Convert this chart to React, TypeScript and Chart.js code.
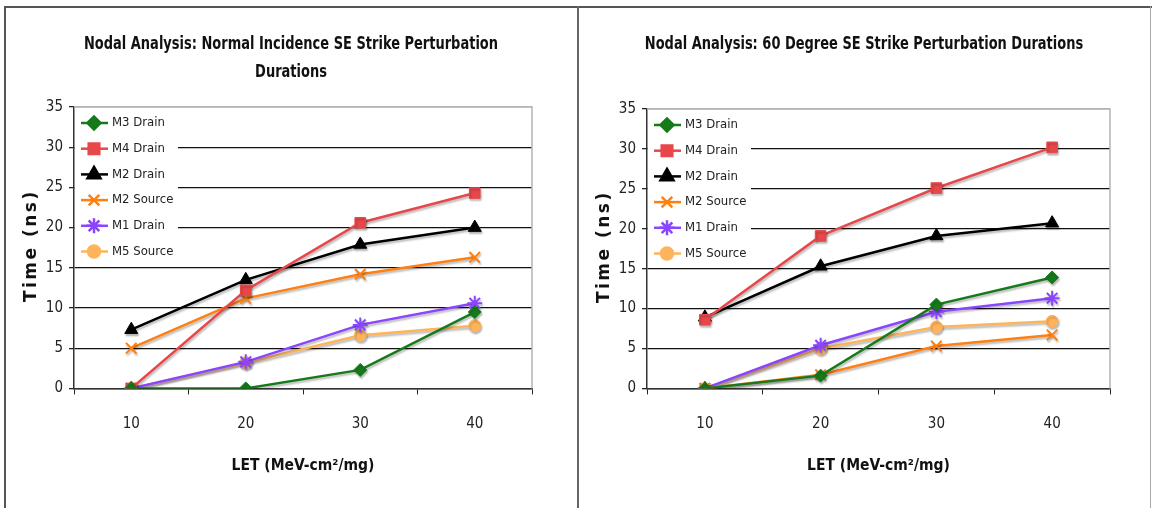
import { useEffect, useRef } from "react";
import { Chart, registerables } from "chart.js";
import { drawPoint } from "chart.js/helpers";

Chart.register(...registerables);

// ---------- data ----------
const categories = ["10", "20", "30", "40"];
const seriesNames = ["M3 Drain", "M4 Drain", "M2 Drain", "M2 Source", "M1 Drain", "M5 Source"];
const seriesColors = ["#167a1a", "#e8474a", "#000000", "#ff7f10", "#8a45ff", "#ffb45c"];
const seriesPoints = ["rectRot", "rect", "triangle", "crossRot", "star", "circle"];
const seriesRadius = [6.5, 7.5, 7.5, 7.5, 7.5, 6];

// Normal incidence
const normalM3Drain = [0, 0, 2.3, 9.5];
const normalM4Drain = [0, 12.2, 20.6, 24.3];
const normalM2Drain = [7.3, 13.5, 17.9, 20.0];
const normalM2Source = [5.0, 11.2, 14.2, 16.3];
const normalM1Drain = [0, 3.3, 7.9, 10.6];
const normalM5Source = [0, 3.2, 6.6, 7.8];

// 60 degree
const deg60M3Drain = [0, 1.6, 10.5, 13.9];
const deg60M4Drain = [8.6, 19.1, 25.1, 30.2];
const deg60M2Drain = [8.9, 15.3, 19.1, 20.7];
const deg60M2Source = [0, 1.7, 5.3, 6.7];
const deg60M1Drain = [0, 5.4, 9.6, 11.3];
const deg60M5Source = [0, 5.0, 7.7, 8.4];

const yTickMin = 0;
const yTickMax = 35;
const yTickStep = 5;

const titleNormal = ["Nodal Analysis: Normal Incidence SE Strike Perturbation", "Durations"];
const title60 = ["Nodal Analysis: 60 Degree SE Strike Perturbation Durations"];
const xTitle = "LET (MeV-cm\u00B2/mg)";
const yTitle = "Time (ns)";

const FONT = "'DejaVu Sans Condensed', 'DejaVu Sans', sans-serif";

// ---------- plugins ----------
const shadowPlugin = {
  id: "lineShadow",
  beforeDatasetsDraw(chart: any) {
    const ctx = chart.ctx;
    ctx.save();
    ctx.shadowColor = "rgba(0,0,0,0.28)";
    ctx.shadowOffsetX = 1;
    ctx.shadowOffsetY = 2;
    ctx.shadowBlur = 2;
  },
  afterDatasetsDraw(chart: any) {
    chart.ctx.restore();
  },
};

const framePlugin = {
  id: "plotFrame",
  afterDatasetsDraw(chart: any) {
    const { ctx, chartArea } = chart;
    ctx.save();
    ctx.strokeStyle = "#b4b4b4";
    ctx.lineWidth = 1.5;
    ctx.beginPath();
    ctx.moveTo(chartArea.left, chartArea.top);
    ctx.lineTo(chartArea.right, chartArea.top);
    ctx.lineTo(chartArea.right, chartArea.bottom);
    ctx.stroke();
    ctx.restore();
  },
};

const textPlugin = {
  id: "panelTexts",
  afterDraw(chart: any, _args: any, opts: any) {
    const { ctx, chartArea } = chart;
    ctx.save();
    ctx.fillStyle = "#111";
    ctx.textAlign = "center";
    ctx.textBaseline = "middle";
    ctx.font = `bold 17px ${FONT}`;
    (opts.lines as string[]).forEach((line, i) => {
      ctx.save();
      ctx.translate(opts.centerX, 36.5 + i * 28);
      ctx.scale(0.85, 1);
      ctx.fillText(line, 0, 0);
      ctx.restore();
    });
    // rotated y-axis title
    ctx.translate(26, (chartArea.top + chartArea.bottom) / 2 - 2);
    ctx.rotate(-Math.PI / 2);
    ctx.font = `bold 17px 'DejaVu Sans', sans-serif`;
    (ctx as any).letterSpacing = "2.5px";
    ctx.fillText(yTitle, 0, 0);
    ctx.restore();
  },
};

const insideLegendPlugin = {
  id: "insideLegend",
  afterDraw(chart: any) {
    const { ctx, chartArea } = chart;
    const left = chartArea.left;
    const top = chartArea.top;
    ctx.save();
    ctx.fillStyle = "#ffffff";
    ctx.fillRect(left + 1, top + 1, 103, 155);
    chart.data.datasets.forEach((ds: any, i: number) => {
      const y = top + 16 + i * 25.7;
      ctx.strokeStyle = ds.borderColor;
      ctx.lineWidth = 2.5;
      ctx.beginPath();
      ctx.moveTo(left + 7, y);
      ctx.lineTo(left + 34, y);
      ctx.stroke();
      ctx.fillStyle = ds.backgroundColor;
      ctx.strokeStyle = ds.borderColor;
      drawPoint(
        ctx,
        { pointStyle: ds.pointStyle, radius: ds.pointRadius, rotation: 0, borderWidth: 1.5 },
        left + 20,
        y
      );
      ctx.fillStyle = "#222";
      ctx.font = `13px ${FONT}`;
      ctx.textBaseline = "middle";
      ctx.textAlign = "left";
      ctx.fillText(ds.label, left + 38, y);
    });
    ctx.restore();
  },
};

function makeDatasets(values: number[][]) {
  return values.map((v, i) => ({
    label: seriesNames[i],
    data: v,
    borderColor: seriesColors[i],
    backgroundColor: seriesColors[i],
    pointStyle: seriesPoints[i],
    pointRadius: seriesRadius[i],
    pointBorderWidth: seriesPoints[i] === "crossRot" || seriesPoints[i] === "star" ? 2 : 1,
    borderWidth: 2.5,
    tension: 0,
  }));
}

function makeConfig(values: number[][], title: string[], topPad: number, rightPad: number): any {
  return {
    type: "line",
    data: { labels: categories, datasets: makeDatasets(values) },
    plugins: [shadowPlugin, framePlugin, insideLegendPlugin, textPlugin],
    options: {
      animation: false,
      responsive: false,
      devicePixelRatio: 1,
      layout: { padding: { left: 0, right: rightPad, top: topPad, bottom: 33 } },
      plugins: {
        legend: { display: false },
        tooltip: { enabled: false },
        title: { display: false },
        panelTexts: { lines: title, centerX: 285 },
      },
      scales: {
        x: {
          type: "category",
          offset: true,
          grid: {
            offset: true,
            drawOnChartArea: false,
            drawTicks: true,
            tickLength: 6,
            color: "#222",
            lineWidth: 1,
          },
          border: { display: true, color: "#333", width: 1.5 },
          ticks: { color: "#222", font: { family: FONT, size: 15 }, padding: 21 },
          title: {
            display: true,
            text: xTitle,
            color: "#111",
            font: { family: FONT, size: 15.5, weight: "bold" },
            padding: { top: 2, bottom: 0 },
          },
        },
        y: {
          min: yTickMin,
          max: yTickMax,
          afterFit(scale: any) {
            scale.width = 68;
          },
          ticks: {
            stepSize: yTickStep,
            color: "#222",
            font: { family: FONT, size: 15 },
            padding: 6,
          },
          grid: {
            color: (c: any) => (c.tick && c.tick.value === yTickMax ? "#b4b4b4" : "#111"),
            tickColor: "#222",
            lineWidth: 1.3,
            tickLength: 5,
          },
          border: { display: true, color: "#333", width: 1.5 },
          title: { display: false },
        },
      },
    },
  };
}

function ChartPanel({ config, left }: { config: any; left: number }) {
  const ref = useRef<HTMLCanvasElement | null>(null);
  useEffect(() => {
    if (!ref.current) return;
    const chart = new Chart(ref.current, config);
    return () => chart.destroy();
  }, [config]);
  return (
    <canvas
      ref={ref}
      width={570}
      height={500}
      style={{ position: "absolute", left, top: 8, width: 570, height: 500 }}
    />
  );
}

const normalConfig = makeConfig(
  [normalM3Drain, normalM4Drain, normalM2Drain, normalM2Source, normalM1Drain, normalM5Source],
  titleNormal,
  99,
  44
);
const deg60Config = makeConfig(
  [deg60M3Drain, deg60M4Drain, deg60M2Drain, deg60M2Source, deg60M1Drain, deg60M5Source],
  title60,
  101,
  39
);

export default function App() {
  return (
    <div
      style={{
        position: "fixed",
        left: 0,
        top: 0,
        width: 1152,
        height: 508,
        background: "#fff",
        overflow: "hidden",
      }}
    >
      <div style={{ position: "absolute", left: 4, top: 6, width: 1148, height: 2, background: "#555" }} />
      <div style={{ position: "absolute", left: 4, top: 6, width: 2, height: 502, background: "#555" }} />
      <div style={{ position: "absolute", left: 577, top: 6, width: 2, height: 502, background: "#666" }} />
      <div style={{ position: "absolute", left: 1150, top: 6, width: 1, height: 502, background: "#aaa" }} />
      <ChartPanel config={normalConfig} left={6} />
      <ChartPanel config={deg60Config} left={579} />
    </div>
  );
}
